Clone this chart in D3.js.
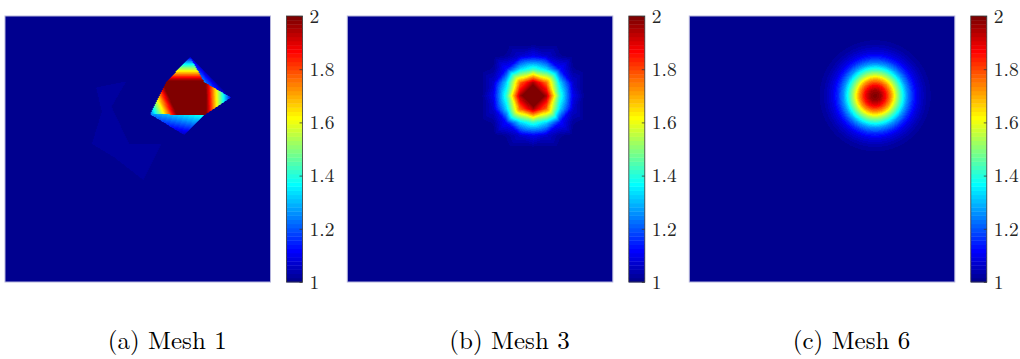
<!DOCTYPE html>
<html>
<head>
<meta charset="utf-8">
<script src="https://cdn.jsdelivr.net/npm/d3@7"></script>
<style>
  body { margin: 0; background: #fff; }
  svg { display: block; }
</style>
</head>
<body>
<div id="chart"></div>
<script>
// ---- data ----
const panelLabels = ["(a) Mesh 1", "(b) Mesh 3", "(c) Mesh 6"];
const colorTicks = [1, 1.2, 1.4, 1.6, 1.8, 2];
const valueRange = [1, 2];
const backgroundValue = 1;

// Mesh 1: coarse discontinuous elements (unit square, y up)
const mesh1Nodes = {
  P: [0.697, 0.846], A: [0.606, 0.751], B: [0.750, 0.751], C: [0.753, 0.629],
  D: [0.661, 0.629], L: [0.546, 0.631], E: [0.851, 0.694], F: [0.674, 0.553]
};
const mesh1Elements = [
  { nodes: ["A", "B", "C"], values: [2.3, 2.3, 2.3] },
  { nodes: ["A", "C", "D"], values: [2.3, 2.3, 2.3] },
  { nodes: ["A", "B", "P"], values: [2.05, 2.05, 1.08] },
  { nodes: ["P", "B", "E"], values: [1.1, 1.25, 1.0] },
  { nodes: ["B", "C", "E"], values: [2.05, 2.05, 1.1] },
  { nodes: ["A", "D", "L"], values: [2.1, 2.1, 1.2] },
  { nodes: ["L", "C", "F"], values: [1.25, 1.4, 1.05] }
];
// faint patch just above 1
const mesh1Patch = [
  [0.343, 0.731], [0.456, 0.754], [0.401, 0.659], [0.467, 0.519], [0.588, 0.520],
  [0.521, 0.383], [0.408, 0.471], [0.327, 0.519], [0.364, 0.640]
];
const mesh1PatchValue = 1.02;

// Mesh 3 and Mesh 6: radial profile of the bump around its centre
const bumpCenter = [0.7, 0.7];
const mesh3Divisions = 20;
const mesh3Radius = [0, 0.03, 0.05, 0.065, 0.08, 0.10, 0.12, 0.14, 0.16, 0.19];
const mesh3Values = [2.15, 2.05, 1.95, 1.83, 1.65, 1.42, 1.27, 1.14, 1.06, 1.0];
const mesh6Radius = [0, 0.02, 0.04, 0.06, 0.08, 0.10, 0.12, 0.14, 0.16, 0.18, 0.20, 0.24];
const mesh6Values = [2.0, 1.96, 1.86, 1.72, 1.55, 1.40, 1.26, 1.16, 1.09, 1.05, 1.02, 1.0];

// ---- layout ----
const width = 1020, height = 359;
const plotTop = 16, plotW = 265.5, plotH = 266;
const panelX = [5, 347.3, 689.3];
const cbGap = 281.5, cbW = 16;
const captionY = 349;
const serif = '"Latin Modern Roman", "Liberation Serif", serif';

// MATLAB jet(64)
const jetRamp = [...d3.range(1, 17).map(i => i / 16), ...d3.range(15).map(() => 1), ...d3.range(16, 0, -1).map(i => i / 16)];
const rampAt = j => (j >= 1 && j <= jetRamp.length) ? jetRamp[j - 1] : 0;
const jet64 = d3.range(1, 65).map(k =>
  d3.rgb(rampAt(k - 24) * 255, rampAt(k - 8) * 255, rampAt(k + 8) * 255).formatHex());
const color = d3.scaleQuantize().domain(valueRange).range(jet64);

// ---- field functions ----
function mesh1Value(u, v) {
  for (const el of mesh1Elements) {
    const [p1, p2, p3] = el.nodes.map(n => mesh1Nodes[n]);
    const det = (p2[1] - p3[1]) * (p1[0] - p3[0]) + (p3[0] - p2[0]) * (p1[1] - p3[1]);
    const l1 = ((p2[1] - p3[1]) * (u - p3[0]) + (p3[0] - p2[0]) * (v - p3[1])) / det;
    const l2 = ((p3[1] - p1[1]) * (u - p3[0]) + (p1[0] - p3[0]) * (v - p3[1])) / det;
    const l3 = 1 - l1 - l2;
    if (l1 >= -1e-9 && l2 >= -1e-9 && l3 >= -1e-9) {
      return l1 * el.values[0] + l2 * el.values[1] + l3 * el.values[2];
    }
  }
  if (d3.polygonContains(mesh1Patch, [u, v])) return mesh1PatchValue;
  return backgroundValue;
}

const mesh3Profile = d3.scaleLinear().domain(mesh3Radius).range(mesh3Values).clamp(true);
const mesh6Profile = d3.scaleLinear().domain(mesh6Radius).range(mesh6Values).clamp(true);

function mesh3Value(u, v) {
  const n = mesh3Divisions;
  const nodeVal = (i, j) => mesh3Profile(Math.hypot(i / n - bumpCenter[0], j / n - bumpCenter[1]));
  const i = Math.min(n - 1, Math.floor(u * n)), j = Math.min(n - 1, Math.floor(v * n));
  const s = u * n - i, t = v * n - j;
  const v00 = nodeVal(i, j), v10 = nodeVal(i + 1, j), v01 = nodeVal(i, j + 1), v11 = nodeVal(i + 1, j + 1);
  if ((i + j) % 2 === 0) {
    if (s >= t) return v00 + s * (v10 - v00) + t * (v11 - v10);
    return v00 + t * (v01 - v00) + s * (v11 - v01);
  }
  if (s + t <= 1) return v00 + s * (v10 - v00) + t * (v01 - v00);
  return v11 + (1 - s) * (v01 - v11) + (1 - t) * (v10 - v11);
}

function mesh6Value(u, v) {
  return mesh6Profile(Math.hypot(u - bumpCenter[0], v - bumpCenter[1]));
}

const fields = [mesh1Value, mesh3Value, mesh6Value];

// draw a field into a canvas and hand back a data url
function rasterize(field) {
  const w = Math.round(plotW), h = Math.round(plotH);
  const x = d3.scaleLinear().domain([0, 1]).range([0, w]);
  const y = d3.scaleLinear().domain([0, 1]).range([h, 0]);
  const canvas = document.createElement("canvas");
  canvas.width = w; canvas.height = h;
  const ctx = canvas.getContext("2d");
  const img = ctx.createImageData(w, h);
  for (let py = 0; py < h; py++) {
    for (let px = 0; px < w; px++) {
      const c = d3.rgb(color(field(x.invert(px + 0.5), y.invert(py + 0.5))));
      const k = (py * w + px) * 4;
      img.data[k] = c.r; img.data[k + 1] = c.g; img.data[k + 2] = c.b; img.data[k + 3] = 255;
    }
  }
  ctx.putImageData(img, 0, 0);
  return canvas.toDataURL();
}

// ---- svg ----
const svg = d3.select("#chart").append("svg")
  .attr("width", width).attr("height", height);

const yCb = d3.scaleLinear().domain(valueRange).range([plotTop + plotH, plotTop]);
const bandEdges = color.thresholds();
const bands = jet64.map((c, i) => ({
  lo: i === 0 ? valueRange[0] : bandEdges[i - 1],
  hi: i === jet64.length - 1 ? valueRange[1] : bandEdges[i],
  c
}));

panelLabels.forEach((label, i) => {
  const g = svg.append("g").attr("transform", `translate(${panelX[i]},0)`);

  g.append("image")
    .attr("x", 0).attr("y", plotTop)
    .attr("width", plotW).attr("height", plotH)
    .attr("preserveAspectRatio", "none")
    .attr("href", rasterize(fields[i]));

  g.append("rect")
    .attr("x", 0).attr("y", plotTop)
    .attr("width", plotW).attr("height", plotH)
    .attr("fill", "none")
    .attr("stroke", "#b4b4dc")
    .attr("stroke-width", 1);

  // colorbar
  const cb = g.append("g").attr("transform", `translate(${cbGap},0)`);
  cb.selectAll("rect.band")
    .data(bands)
    .enter().append("rect")
    .attr("class", "band")
    .attr("x", 0)
    .attr("y", d => yCb(d.hi))
    .attr("width", cbW)
    .attr("height", d => yCb(d.lo) - yCb(d.hi) + 0.4)
    .attr("fill", d => d.c);

  cb.append("rect")
    .attr("x", 0).attr("y", plotTop)
    .attr("width", cbW).attr("height", plotH)
    .attr("fill", "none")
    .attr("stroke", "#3a3a3a")
    .attr("stroke-width", 0.8);

  const axis = cb.append("g")
    .attr("transform", `translate(${cbW},0)`)
    .call(d3.axisRight(yCb).tickValues(colorTicks).tickSize(-3).tickPadding(7)
      .tickFormat(d => String(+d.toFixed(1))));
  axis.select(".domain").remove();
  axis.selectAll("line").attr("stroke", "#3a3a3a").attr("stroke-width", 0.8);
  axis.selectAll("text")
    .attr("fill", "#262626")
    .style("font-family", serif)
    .style("font-size", "19.5px");

  svg.append("text")
    .attr("x", panelX[i] + 162.2)
    .attr("y", captionY)
    .attr("text-anchor", "middle")
    .style("font-family", serif)
    .style("font-size", "25px")
    .attr("fill", "#000")
    .text(label);
});
</script>
</body>
</html>
